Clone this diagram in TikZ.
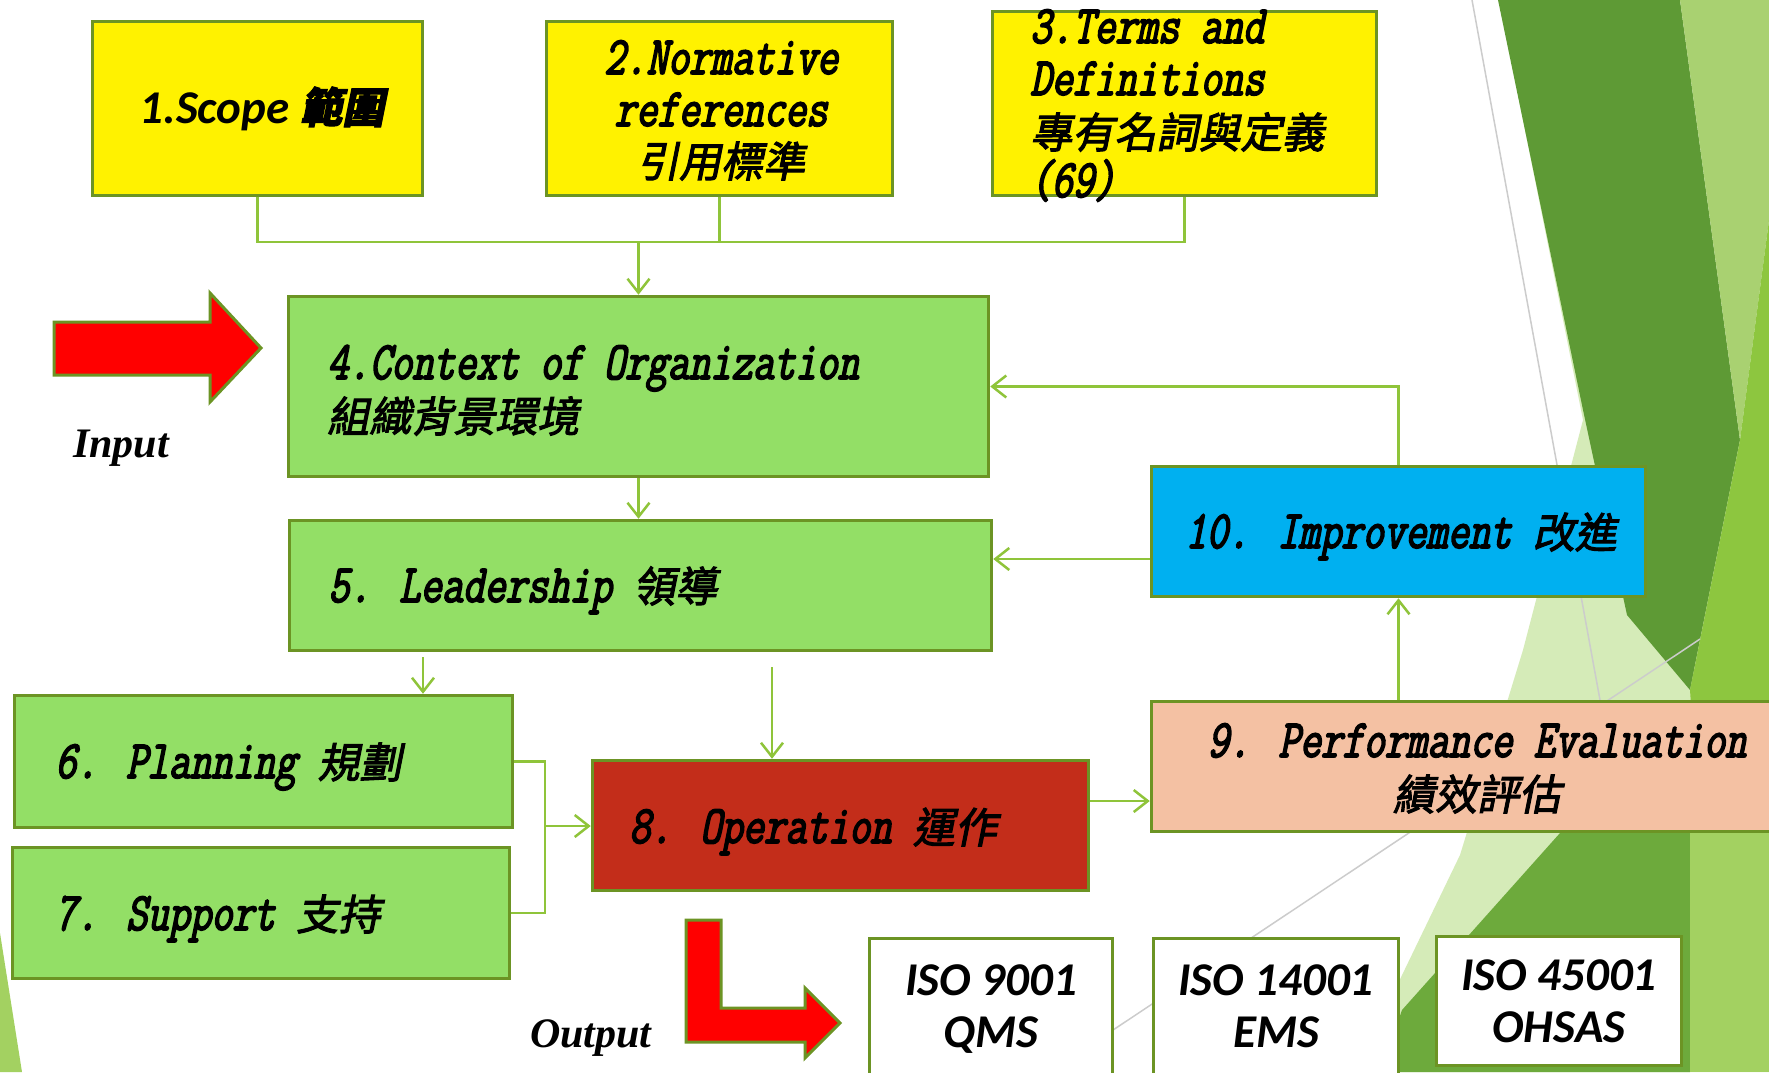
\documentclass[tikz,border=0pt]{standalone}
\usepackage{fontspec}
\setmainfont{Liberation Serif}
\newfontfamily\monof[FakeStretch=0.765,FakeBold=3,FakeSlant=0.2]{Latin Modern Mono}
\newfontfamily\cjkf[FakeSlant=0.2,FakeBold=2.5]{Noto Sans CJK TC}
\newfontfamily\cjkbf[FakeSlant=0.2,FakeBold=2.5]{Noto Sans CJK TC}
\newfontfamily\calfont{Carlito}
\usetikzlibrary{arrows.meta}
\definecolor{bordergreen}{HTML}{6C9424}
\definecolor{conngreen}{HTML}{8FC43A}
\definecolor{boxgreen}{HTML}{93DF66}
\definecolor{boxblue}{HTML}{00B0F0}
\definecolor{boxpeach}{HTML}{F4C1A3}
\definecolor{boxred}{HTML}{C32D1A}
\definecolor{bgdark}{HTML}{5E9A35}
\definecolor{bglight}{HTML}{A9D171}
\definecolor{bgpale}{HTML}{D5EBB8}
\definecolor{bgyg}{HTML}{8DC63F}
\definecolor{bgmid}{HTML}{6DAA3C}
\definecolor{bgbr}{HTML}{A3D161}
\newcommand\boxlat{\monof\fontsize{54pt}{60pt}\selectfont}
\newcommand\boxcjk{\cjkf\fontsize{42pt}{50pt}\selectfont}
\newcommand\cjkbig{\cjkbf\fontsize{42pt}{50pt}\selectfont}
\newcommand\isofont{\calfont\bfseries\itshape\fontsize{47pt}{52pt}\selectfont}
\newcommand\labfont{\bfseries\itshape\fontsize{42pt}{48pt}\selectfont}
\tikzset{
  box/.style={draw=bordergreen, line width=3.5pt, inner sep=0pt, rectangle},
  conn/.style={draw=conngreen, line width=2.5pt},
  arr/.style={conn, -{Straight Barb[length=14pt,width=22pt]}},
  tl/.style={inner sep=0pt, anchor=base west},
  tc/.style={inner sep=0pt, anchor=base},
  redarrow/.style={fill=red, draw=bordergreen, line width=3pt, line join=miter},
  bgline/.style={draw=black!20, line width=1.5pt}
}
\begin{document}
\begin{tikzpicture}[x=1pt,y=-1pt]
\useasboundingbox (0,0) rectangle (1769,1072);
\clip (0,0) rectangle (1769,1072);
\fill[white] (0,0) rectangle (1769,1072);
% background facets
\fill[bgpale] (1515,80) -- (1583,420) -- (1523,650) -- (1460,855) -- (1390,1000) -- (1370,1072) -- (1769,1072) -- (1769,700) -- (1700,690) -- cycle;
\fill[bgdark] (1498,0) -- (1680,0) -- (1740,440) -- (1690,690) -- (1627,615) -- (1583,410) -- cycle;
\fill[bglight] (1680,0) -- (1769,0) -- (1769,220) -- (1740,440) -- cycle;
\fill[bgyg] (1740,440) -- (1769,220) -- (1769,840) -- (1700,840) -- (1690,690) -- cycle;
\fill[bgmid] (1560,833) -- (1690,833) -- (1690,1072) -- (1380,1072) -- (1402,1010) -- cycle;
\fill[bgbr] (1690,833) -- (1769,833) -- (1769,1072) -- (1690,1072) -- cycle;
\fill[bgbr] (0,933) -- (22,1072) -- (0,1072) -- cycle;
\draw[bgline] (1472,0) -- (1600,700);
\draw[bgline] (1700,639) -- (1050,1072);

% boxes
\node[box, fill=yellow, minimum width=330pt, minimum height=174pt] (b1) at (257.5,108.5) {};
\node[box, fill=yellow, minimum width=346pt, minimum height=174pt] (b2) at (719.5,108.5) {};
\node[box, fill=yellow, minimum width=384pt, minimum height=184pt] (b3) at (1184.5,103.5) {};
\node[box, fill=boxgreen, minimum width=700pt, minimum height=180pt] (b4) at (638.5,386.5) {};
\node[box, fill=boxgreen, minimum width=702pt, minimum height=130pt] (b5) at (640.5,585.5) {};
\node[box, fill=boxgreen, minimum width=498pt, minimum height=132pt] (b6) at (263.5,761.5) {};
\node[box, fill=boxgreen, minimum width=497pt, minimum height=131pt] (b7) at (261,913) {};
\node[box, fill=boxred, minimum width=496pt, minimum height=130pt] (b8) at (840.5,825.5) {};
\node[box, fill=boxpeach, minimum width=657pt, minimum height=130pt] (b9) at (1480,766.5) {};
\node[box, fill=boxblue, minimum width=494pt, minimum height=130pt] (b10) at (1398.5,531.5) {};
\node[box, fill=white, minimum width=243pt, minimum height=160pt] (iso1) at (991,1018.5) {};
\node[box, fill=white, minimum width=245pt, minimum height=160pt] (iso2) at (1276,1018.5) {};
\node[box, fill=white, minimum width=245pt, minimum height=129pt] (iso3) at (1559,1001) {};

% connectors
\coordinate (j) at (638.5,242);
\draw[conn] (b1.south) |- (j);
\draw[conn] (b3.south) |- (j);
\draw[conn] (b2.south) -- (b2.south |- j);
\draw[arr] (j) -- (b4.north);
\draw[arr] (b4.south) -- (b4.south |- b5.north);
\draw[arr] (b10.north) |- (b4.east);
\coordinate (y559) at (0,559);
\draw[arr] (b10.west |- y559) -- (b5.east |- y559);
\draw[arr] (b10.south |- b9.north) -- (b10.south);
\coordinate (x423) at (423,0);
\draw[arr, shorten <=5pt] (b5.south -| x423) -- (b6.north -| x423);
\coordinate (x772) at (772,0);
\draw[arr, shorten <=15pt] (b5.south -| x772) -- (b8.north -| x772);
\coordinate (k) at (545,826);
\draw[conn] (b6.east) -| (k);
\draw[conn] (b7.east) -| (k);
\draw[arr] (k) -- (b8.west |- k);
\coordinate (y801) at (0,801);
\draw[arr] (b8.east |- y801) -- (b9.west |- y801);

% red block arrows
\draw[redarrow] (54,322) -- (210,322) -- (210,293) -- (261,348) -- (210,402) -- (210,375) -- (54,375) -- cycle;
\draw[redarrow] (686,920) -- (721,920) -- (721,1008) -- (805,1008) -- (805,988) -- (840,1023) -- (805,1058) -- (805,1042) -- (686,1042) -- cycle;

% texts
\node[tc] (t1) at (262,123) {\isofont 1.Scope {\cjkbig 範圍}};
\node[tc] (t2a) at (721,74) {\boxlat 2.Normative};
\node[tc] (t2b) at (721,126) {\boxlat references};
\node[tc] (t2c) at (721,177) {\boxcjk 引用標準};
\node[tl] (t3a) at (1030,43) {\boxlat 3.Terms and};
\node[tl] (t3b) at (1030,95) {\boxlat Definitions};
\node[tl] (t3c) at (1030,148) {\boxcjk 專有名詞與定義};
\node[tl] (t3d) at (1030,197) {\boxlat (69)};
\node[tl] (t4a) at (327,379) {\boxlat 4.Context of Organization};
\node[tl] (t4b) at (327,432) {\boxcjk 組織背景環境};
\node[tl] (t5) at (328,602) {\boxlat 5. Leadership {\boxcjk 領導}};
\node[tc] (t10) at (1401,548) {\boxlat 10. Improvement {\boxcjk 改進}};
\node[tc] (t9a) at (1477,757) {\boxlat 9. Performance Evaluation};
\node[tc] (t9b) at (1477,810) {\boxcjk 績效評估};
\node[tl] (t6) at (55,778) {\boxlat 6. Planning {\boxcjk 規劃}};
\node[tl] (t7) at (55,930) {\boxlat 7. Support {\boxcjk 支持}};
\node[tl] (t8) at (629,843) {\boxlat 8. Operation {\boxcjk 運作}};
\node[tl] (tin) at (73,457) {\labfont Input};
\node[tl] (tout) at (530,1047) {\labfont Output};
\node[tc] (i1a) at (991,995) {\isofont ISO 9001};
\node[tc] (i1b) at (991,1047) {\isofont QMS};
\node[tc] (i2a) at (1276,995) {\isofont ISO 14001};
\node[tc] (i2b) at (1276,1047) {\isofont EMS};
\node[tc] (i3a) at (1559,990) {\isofont ISO 45001};
\node[tc] (i3b) at (1559,1042) {\isofont OHSAS};
\end{tikzpicture}
\end{document}
